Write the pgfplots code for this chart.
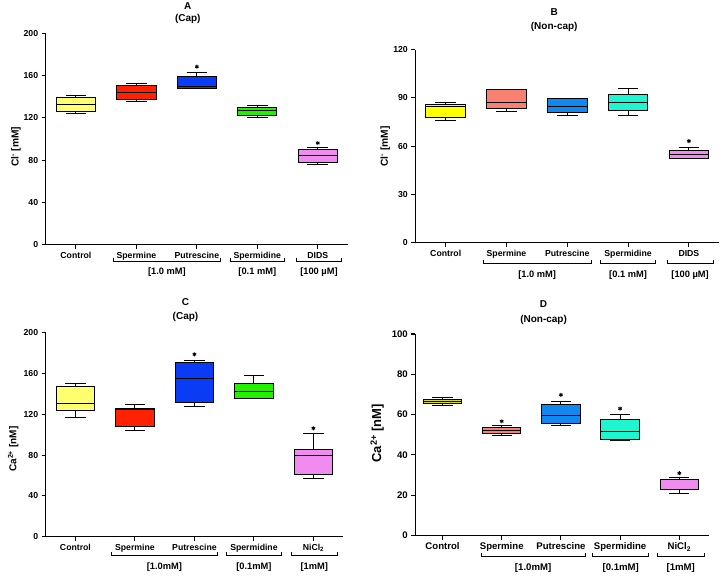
\documentclass[border=0pt]{standalone}
\usepackage{pgfplots}
\pgfplotsset{compat=1.18}
\usepgfplotslibrary{statistics}
\usepackage{fontspec}
\setmainfont{Liberation Sans}
\definecolor{lyel}{HTML}{FFFF70}
\definecolor{yel}{HTML}{FFFF00}
\definecolor{oyel}{HTML}{E0E000}
\definecolor{cred}{HTML}{FF2200}
\definecolor{salm}{HTML}{FA8072}
\definecolor{cblue}{HTML}{0A3CF5}
\definecolor{azur}{HTML}{1088F0}
\definecolor{cgreen}{HTML}{22F000}
\definecolor{aqua}{HTML}{20F5D2}
\definecolor{viol}{HTML}{F08CF0}

\newcommand{\bx}[7]{% pos, lw, lq, med, uq, uw, color
  \addplot[boxplot prepared={draw position=#1, lower whisker=#2, lower quartile=#3,
    median=#4, upper quartile=#5, upper whisker=#6, box extend=0.65, whisker extend=0.34},
    fill=#7, draw=black, line width=1pt, solid] coordinates {};}
\newcommand{\grpfont}{\bfseries\fontsize{9.3}{11}\selectfont}
\newcommand{\grp}[5]{% x1, x2, label, bracket depth, label depth
  \draw[line width=1pt] ([yshift=-#4pt+3.5pt]axis cs:#1,0) -- ([yshift=-#4pt]axis cs:#1,0)
     -- ([yshift=-#4pt]axis cs:#2,0) -- ([yshift=-#4pt+3.5pt]axis cs:#2,0);
  \node[font=\grpfont] at ([yshift=-#5pt]axis cs:{(#1+#2)/2},0) {#3};}

\pgfplotsset{
  panel/.style={
    scale only axis,
    axis lines=left,
    axis line style={-, line width=1.2pt},
    xmin=-0.5, xmax=4.5, ymin=0,
    xtick={0,1,2,3,4},
    tick align=outside,
    major tick length=4pt,
    tick style={line width=1.1pt, black},
    ticklabel style={font=\bfseries\fontsize{8.7}{10}\selectfont},
    /pgf/number format/assume math mode=true,
    clip=false,
    boxplot/draw direction=y,
  },
}

\begin{document}
\begin{tikzpicture}
\path[use as bounding box] (0,0) rectangle (722pt,579pt);

% ---------- A ----------
\begin{axis}[panel, at={(45.7pt,334.5pt)}, anchor=south west,
  width=302.3pt, height=211pt, ymax=200, ytick={0,40,80,120,160,200},
  xticklabels={Control,Spermine,Putrescine,Spermidine,DIDS},
  ylabel={Cl\textsuperscript{-} [mM]},
  ylabel style={at={(axis description cs:-0.098,0.463)}, anchor=center, font=\bfseries\fontsize{10.2}{12}\selectfont}]
\bx{0}{124.4}{126.5}{133.1}{139.8}{141.7}{lyel}
\bx{1}{136.0}{137.9}{144.3}{150.5}{152.4}{cred}
\bx{2}{147.7}{147.7}{149.6}{159.7}{162.6}{cblue}
\bx{3}{120.8}{122.7}{126.8}{130.3}{131.6}{cgreen}
\bx{4}{75.4}{77.6}{83.9}{89.9}{92.1}{viol}
\addplot[only marks, mark=asterisk, mark size=2pt, line width=0.9pt, black] coordinates {(2,168.5) (4,96.2)};
\grp{0.62}{2.39}{[1.0 mM]}{16.5}{27.5}
\grp{2.55}{3.45}{[0.1 mM]}{16.5}{27.5}
\grp{3.64}{4.40}{[100 µM]}{16.5}{27.5}
\node[font=\bfseries\fontsize{10}{12.6}\selectfont, align=center] at ([yshift=20.5pt]axis description cs:0.47,1) {A\\(Cap)};
\end{axis}

% ---------- B ----------
\begin{axis}[panel, at={(415.3pt,336.5pt)}, anchor=south west,
  width=304pt, height=192.8pt, ymax=120, ytick={0,30,60,90,120},
  xticklabels={Control,Spermine,Putrescine,Spermidine,DIDS},
  ylabel={Cl\textsuperscript{-} [mM]},
  ylabel style={at={(axis description cs:-0.099,0.497)}, anchor=center, font=\bfseries\fontsize{10.2}{12}\selectfont}]
\bx{0}{76.1}{77.8}{84.8}{85.6}{87.3}{yel}
\bx{1}{81.7}{83.4}{87.3}{95.2}{95.2}{salm}
\bx{2}{79.0}{80.7}{84.4}{89.4}{89.4}{azur}
\bx{3}{78.8}{82.2}{87.3}{92.3}{95.6}{aqua}
\bx{4}{52.0}{52.0}{54.8}{57.3}{58.9}{viol}
\addplot[only marks, mark=asterisk, mark size=2pt, line width=0.9pt, black] coordinates {(4,63.1)};
\grp{0.62}{2.39}{[1.0 mM]}{21}{33}
\grp{2.55}{3.45}{[0.1 mM]}{21}{33}
\grp{3.64}{4.40}{[100 µM]}{21}{33}
\node[font=\bfseries\fontsize{10}{14}\selectfont, align=center] at ([yshift=30pt]axis description cs:0.457,1) {B\\(Non-cap)};
\end{axis}

% ---------- C ----------
\begin{axis}[panel, at={(45.7pt,42.3pt)}, anchor=south west,
  width=297.5pt, height=204pt, ymax=200, ytick={0,40,80,120,160,200},
  xticklabels={Control,Spermine,Putrescine,Spermidine,NiCl\textsubscript{2}},
  ylabel={Ca\textsuperscript{2+} [nM]},
  ylabel style={at={(axis description cs:-0.109,0.429)}, anchor=center, font=\bfseries\fontsize{10}{12}\selectfont}]
\bx{0}{117.0}{123.9}{130.4}{146.8}{150.0}{lyel}
\bx{1}{104.6}{108.2}{124.5}{125.9}{129.4}{cred}
\bx{2}{127.5}{131.1}{154.9}{170.6}{172.9}{cblue}
\bx{3}{135.3}{135.3}{142.2}{150.4}{158.2}{cgreen}
\bx{4}{56.9}{60.5}{80.1}{85.7}{100.7}{viol}
\addplot[only marks, mark=asterisk, mark size=2pt, line width=0.9pt, black] coordinates {(2,178.8) (4,106.3)};
\grp{0.60}{2.39}{[1.0mM]}{18.5}{30.5}
\grp{2.54}{3.46}{[0.1mM]}{18.5}{30.5}
\grp{3.63}{4.40}{[1mM]}{18.5}{30.5}
\node[font=\bfseries\fontsize{10}{13.4}\selectfont, align=center] at ([yshift=22.7pt]axis description cs:0.47,1) {C\\(Cap)};
\end{axis}

% ---------- D ----------
\begin{axis}[panel, at={(415.3pt,43.5pt)}, anchor=south west,
  width=293.6pt, height=201.5pt, xmin=-0.46, ymax=100, ytick={0,20,40,60,80,100},
  ticklabel style={font=\bfseries\fontsize{9.6}{11}\selectfont},
  xticklabels={Control,Spermine,Putrescine,Spermidine,NiCl\textsubscript{2}},
  ylabel={Ca\textsuperscript{2+} [nM]},
  ylabel style={at={(axis description cs:-0.13,0.507)}, anchor=center, font=\bfseries\fontsize{13}{15}\selectfont}]
\bx{0}{64.6}{65.3}{66.5}{67.6}{68.3}{oyel}
\bx{1}{49.4}{50.4}{52.2}{53.7}{54.4}{salm}
\bx{2}{54.5}{55.7}{59.5}{65.1}{66.6}{azur}
\bx{3}{47.0}{47.8}{51.4}{57.8}{60.0}{aqua}
\bx{4}{20.6}{22.6}{27.8}{28.0}{28.7}{viol}
\addplot[only marks, mark=asterisk, mark size=2pt, line width=0.9pt, black] coordinates {(1,56.7) (2,69.8) (3,63.0) (4,30.9)};
\renewcommand{\grpfont}{\bfseries\fontsize{9.6}{11}\selectfont}
\grp{0.65}{2.41}{[1.0mM]}{20.5}{33}
\grp{2.54}{3.48}{[0.1mM]}{20.5}{33}
\grp{3.63}{4.42}{[1mM]}{20.5}{33}
\node[font=\bfseries\fontsize{10}{15}\selectfont, align=center] at ([yshift=21.5pt]axis description cs:0.437,1) {D\\(Non-cap)};
\end{axis}
\end{tikzpicture}
\end{document}
